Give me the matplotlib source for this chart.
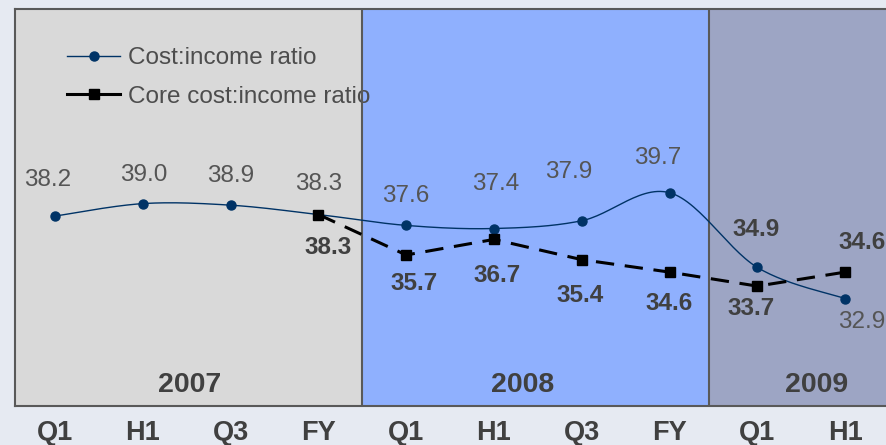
import numpy as np
import matplotlib
matplotlib.use("Agg")
import matplotlib.pyplot as plt
from matplotlib.lines import Line2D

plt.rcParams["font.family"] = ["Liberation Sans", "DejaVu Sans"]

# data
periods = ["Q1", "H1", "Q3", "FY", "Q1", "H1", "Q3", "FY", "Q1", "H1"]
years = ["2007", "2008", "2009"]
cost_income = [38.2, 39.0, 38.9, 38.3, 37.6, 37.4, 37.9, 39.7, 34.9, 32.9]
core_cost_income = [np.nan, np.nan, np.nan, 38.3, 35.7, 36.7, 35.4, 34.6, 33.7, 34.6]

# label placement (pixel offsets from the point) and weight
cost_offsets = [(-7, 36), (1, 29), (0, 29), (0, 31), (0, 29), (2, 45), (-13, 49), (-12, 35), (-1, 38), (17, -23)]
cost_bold = [False] * 8 + [True, False]
core_offsets = [None, None, None, (10, -33), (8, -29), (3, -36), (-2, -36), (0, -31), (-6, -22), (17, 30)]
core_bold = [True] * 10

BG = "#e6eaf2"
PANELS = ["#d9d9d9", "#8fb0fe", "#9da5c4"]
EDGE = "#595959"
TXT = "#404040"
NAVY = "#003366"


def smooth(x, y, n=30):
    # Excel-style smoothed line (cubic bezier, catmull-rom tangents)
    pts = np.column_stack([x, y])
    out = []
    for i in range(len(pts) - 1):
        p0 = pts[max(i - 1, 0)]
        p1 = pts[i]
        p2 = pts[i + 1]
        p3 = pts[min(i + 2, len(pts) - 1)]
        c1 = p1 + (p2 - p0) / 6
        c2 = p2 - (p3 - p1) / 6
        t = np.linspace(0, 1, n)[:, None]
        seg = ((1 - t) ** 3) * p1 + 3 * ((1 - t) ** 2) * t * c1 + 3 * (1 - t) * t ** 2 * c2 + t ** 3 * p2
        out.append(seg if i == 0 else seg[1:])
    out = np.vstack(out)
    return out[:, 0], out[:, 1]


fig = plt.figure(figsize=(8.86, 4.45), dpi=100, facecolor=BG)
ax = fig.add_axes([15 / 886, 39 / 445, 874 / 886, 397 / 445])
ax.set_xlim(-0.456, 9.5)
ax.set_ylim(26, 51.5)

bounds = [-0.456, 3.5, 7.45, 9.5]
for i, col in enumerate(PANELS):
    ax.axvspan(bounds[i], bounds[i + 1], color=col, zorder=0, lw=0)
for b in bounds[1:3]:
    ax.axvline(b, color=EDGE, lw=1.5, zorder=1.5)

x = np.arange(len(periods))
sx, sy = smooth(x, np.array(cost_income))
ax.plot(sx, sy, color=NAVY, lw=1.0, zorder=3)
ax.plot(x, cost_income, ls="none", marker="o", ms=6.5, color=NAVY, zorder=4)

core = np.array(core_cost_income)
ax.plot(x, core, color="black", lw=2.2, dashes=(6, 3.5), marker="s", ms=7, zorder=5)

for i, v in enumerate(cost_income):
    dx, dy = cost_offsets[i]
    ax.annotate(f"{v:.1f}", (x[i], v), xytext=(dx, dy), textcoords="offset pixels",
                ha="center", va="center", fontsize=17.5, color="#555555" if not cost_bold[i] else TXT,
                fontweight="bold" if cost_bold[i] else "normal", zorder=6, annotation_clip=False)
for i, v in enumerate(core_cost_income):
    if np.isnan(v):
        continue
    dx, dy = core_offsets[i]
    ax.annotate(f"{v:.1f}", (x[i], v), xytext=(dx, dy), textcoords="offset pixels",
                ha="center", va="center", fontsize=17.5, color=TXT,
                fontweight="bold" if core_bold[i] else "normal", zorder=6, annotation_clip=False)

year_x = [1.538, 5.331, 8.68]
for yx, yr in zip(year_x, years):
    ax.text(yx, 0.053, yr, transform=ax.get_xaxis_transform(), ha="center", va="center",
            fontsize=20.5, fontweight="bold", color=TXT, zorder=6)

ax.set_xticks(x)
ax.set_xticklabels(periods, fontsize=19.5, fontweight="bold", color=TXT)
ax.tick_params(axis="x", length=0, pad=10)
ax.set_yticks([])
for s in ax.spines.values():
    s.set_color(EDGE)
    s.set_linewidth(1.5)

handles = [
    Line2D([], [], color=NAVY, lw=1.0, marker="o", ms=6.5),
    Line2D([], [], color="black", lw=2.2, marker="s", ms=7),
]
leg = ax.legend(handles, ["Cost:income ratio", "Core cost:income ratio"],
                loc="upper left", bbox_to_anchor=(67 / 886, 1 - 47 / 445), bbox_transform=fig.transFigure,
                frameon=False, fontsize=17.5, handlelength=2.2, handletextpad=0.3,
                labelspacing=0.68, borderaxespad=0, borderpad=0, labelcolor="#4d4d4d")
leg.set_zorder(1)

fig.savefig("out.png", dpi=100, facecolor=BG)
